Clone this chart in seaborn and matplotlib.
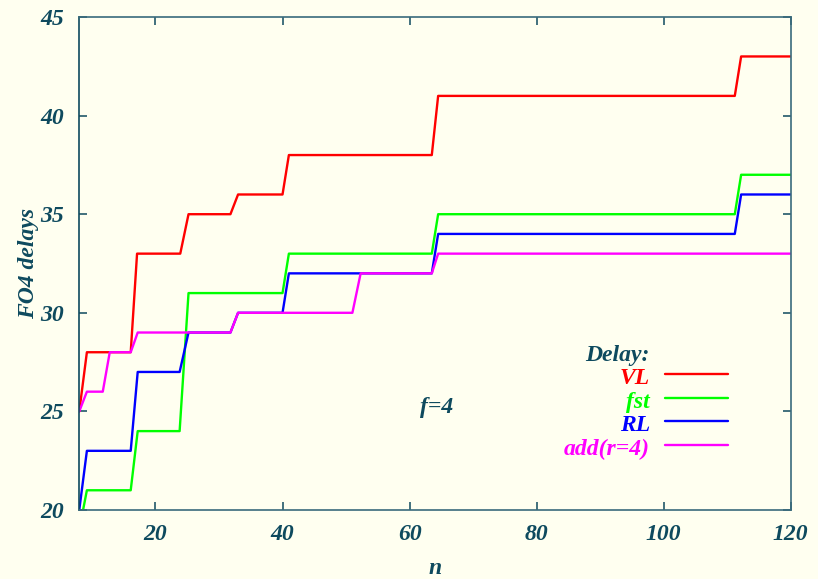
import numpy as np
import pandas as pd
import seaborn as sns
from matplotlib import pyplot as plt

# vertices of each delay curve (n, FO4 delay)
vl_n = [8, 9.2, 16.1, 17.1, 23.9, 25.2, 31.8, 33, 40, 41, 63.5, 64.5, 111.2, 112.2, 120]
vl_d = [25, 28, 28, 33, 33, 35, 35, 36, 36, 38, 38, 41, 41, 43, 43]

fst_n = [8, 9.2, 16.1, 17.2, 23.8, 25.2, 40, 41, 63.5, 64.5, 111.2, 112.2, 120]
fst_d = [19, 21, 21, 24, 24, 31, 31, 33, 33, 35, 35, 37, 37]

rl_n = [8, 9.2, 16.1, 17.2, 23.8, 25.2, 31.8, 33, 40, 41, 63.5, 64.5, 111.2, 112.2, 120]
rl_d = [20, 23, 23, 27, 27, 29, 29, 30, 30, 32, 32, 34, 34, 36, 36]

add_n = [8, 9.2, 11.7, 12.8, 16.1, 17.2, 31.8, 33, 51, 52.3, 63.5, 64.5, 120]
add_d = [25, 26, 26, 28, 28, 29, 29, 30, 30, 32, 32, 33, 33]

series = ["VL", "fst", "RL", "add(r=4)"]
colors = ["#ff0000", "#00ff00", "#0000ff", "#ff00ff"]
x_ticks = [20, 40, 60, 80, 100, 120]
y_ticks = [20, 25, 30, 35, 40, 45]

df = pd.concat([
    pd.DataFrame({"n": xs, "delay": ys, "series": name})
    for name, xs, ys in zip(series, [vl_n, fst_n, rl_n, add_n], [vl_d, fst_d, rl_d, add_d])
], ignore_index=True)

ink = "#0e4a5e"
bg = "#fffff0"
fs = 17

sns.set_theme(style="ticks")
plt.rcParams["font.family"] = ["Liberation Serif", "DejaVu Serif"]
plt.rcParams["font.weight"] = "bold"
plt.rcParams["font.style"] = "italic"

fig = plt.figure(figsize=(8.18, 5.79), dpi=100, facecolor=bg)
ax = fig.add_axes([0.0969, 0.1192, 0.8697, 0.8514])
ax.set_facecolor(bg)

sns.lineplot(data=df, x="n", y="delay", hue="series", hue_order=series,
             palette=colors, estimator=None, sort=False, linewidth=1.7,
             legend=False, ax=ax)

ax.set_xlim(8, 120)
ax.set_ylim(20, 45)
ax.set_xticks(x_ticks)
ax.set_yticks(y_ticks)

for s in ax.spines.values():
    s.set_color("#3a6b7c")
    s.set_linewidth(1.2)
ax.spines["left"].set_color(ink)
ax.tick_params(direction="in", length=6, width=1.1, color=ink,
               top=True, right=True, labelsize=fs, labelcolor=ink)
ax.tick_params(axis="y", pad=11)
ax.tick_params(axis="x", pad=10)
for lab in ax.get_xticklabels() + ax.get_yticklabels():
    lab.set_fontweight("bold")
    lab.set_fontstyle("italic")

lab_kw = dict(fontsize=fs, color=ink, fontweight="bold", fontstyle="italic")
ax.set_xlabel("n", **lab_kw)
ax.set_ylabel("FO4 delays", **lab_kw)
ax.xaxis.set_label_coords(0.5, -0.098)
ax.yaxis.set_label_coords(-0.056, 0.5)

ax.text(64.2, 25.2, "f=4", ha="center", va="center", **lab_kw)

# gnuplot-style key: text right aligned, sample line to its right
tx, lx0, lx1 = 0.802, 0.823, 0.912
ax.text(tx, 0.302, "Delay:", transform=ax.transAxes, ha="right", va="baseline", **lab_kw)
rows = [0.275, 0.227, 0.181, 0.132]
for name, c, yy in zip(series, colors, rows):
    ax.text(tx, yy - 0.02, name, transform=ax.transAxes, ha="right", va="baseline",
            fontsize=fs, color=c, fontweight="bold", fontstyle="italic")
    ax.plot([lx0, lx1], [yy, yy], transform=ax.transAxes, color=c, lw=1.7)

fig.savefig("out.png", dpi=100, facecolor=bg)
